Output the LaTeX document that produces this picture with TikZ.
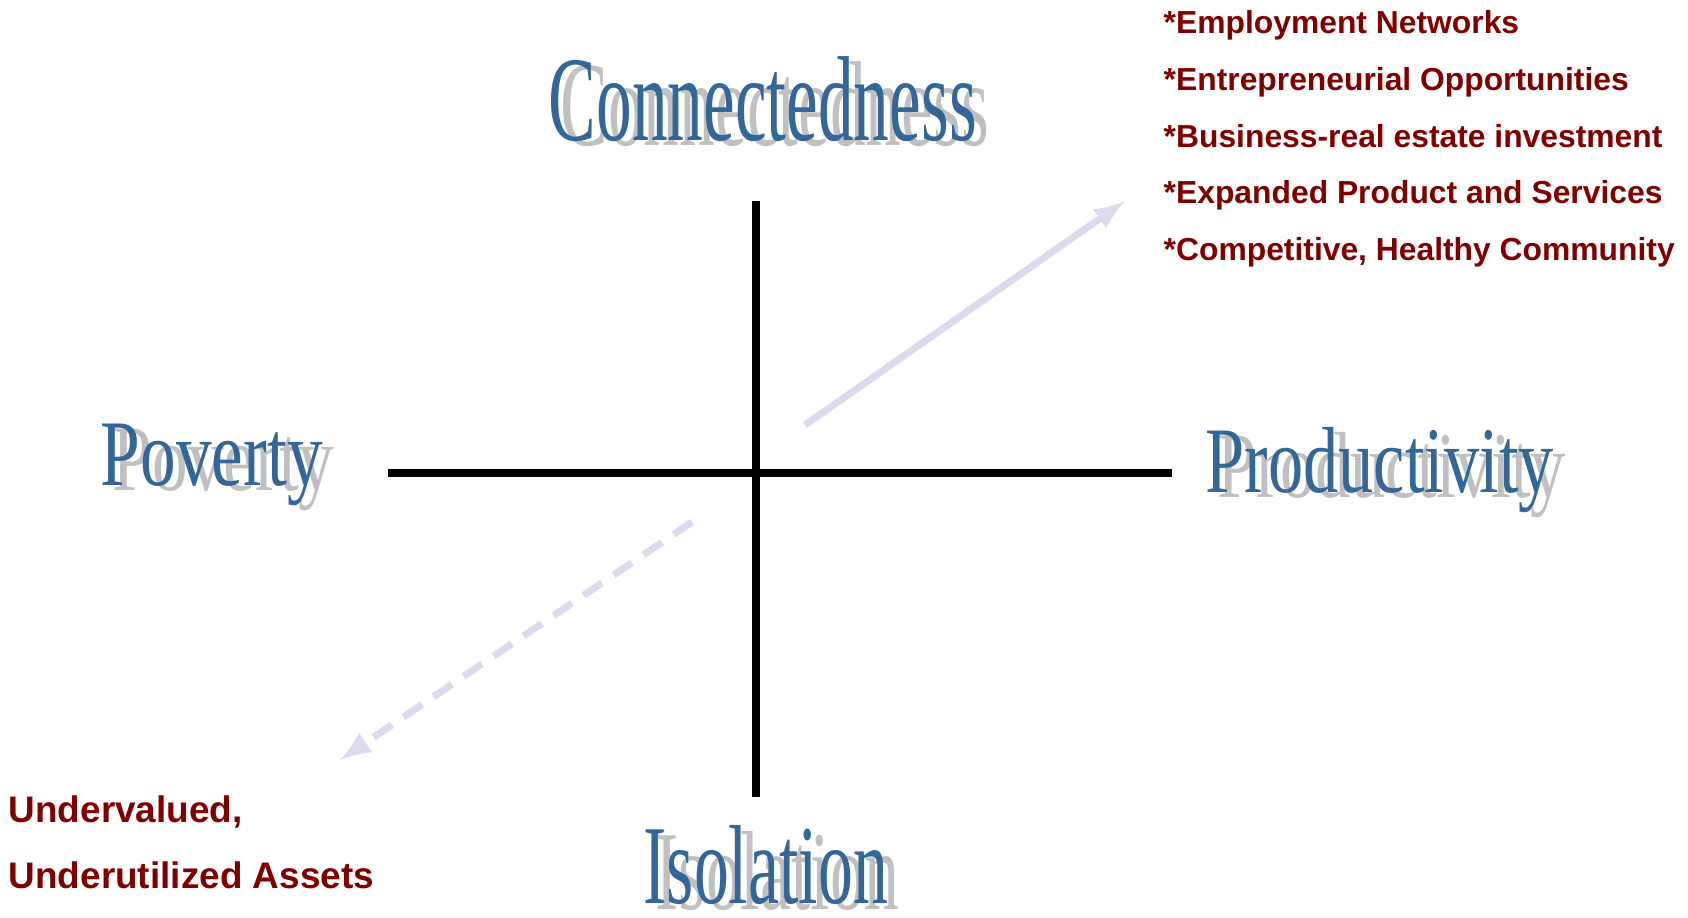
\documentclass[tikz,border=0pt]{standalone}
\usepackage{fontspec}
\setmainfont{Liberation Serif}
\setsansfont{Liberation Sans}
\usepackage{graphicx}
\usetikzlibrary{arrows,positioning}
\definecolor{titleblue}{RGB}{51,102,153}
\definecolor{shadowgrey}{RGB}{192,192,192}
\definecolor{listred}{RGB}{128,0,0}
\definecolor{arrowlav}{RGB}{220,218,238}

% name, position, font size, x-scale, text
\newcommand{\headline}[5]{%
	\node[headline, text=shadowgrey, xshift=3.4pt, yshift=-1.7pt] at (#2)
	{\fontsize{#3}{#3}\selectfont\scalebox{#4}[1]{#5}};
	\node[headline, text=titleblue] (#1) at (#2)
	{\fontsize{#3}{#3}\selectfont\scalebox{#4}[1]{#5}};
}

\begin{document}
\begin{tikzpicture}[
	x=0.01cm, y=-0.01cm,
	headline/.style={
		anchor=base west,
		inner sep=0pt
	},
	item/.style={
		anchor=base west,
		inner sep=0pt,
		text=listred,
		font=\sffamily\bfseries\fontsize{9.05}{9.05}\selectfont
	},
	asset/.style={
		item,
		font=\sffamily\bfseries\fontsize{10.5}{10.5}\selectfont
	},
	axis/.style={
		line width=2.3pt
	},
	lav/.style={
		draw=arrowlav,
		line width=2pt,
		-latex
	}
	]
	\useasboundingbox (0,0) rectangle (1688,917);
	
	% the cross
	\coordinate (top) at (756,201);
	\coordinate (bottom) at (756,797);
	\coordinate (left) at (388,473);
	\coordinate (right) at (1172,473);
	\draw[axis] (top) -- (bottom);
	\draw[axis] (left) -- (right);
	
	\headline{conn}{548,140}{34.4}{0.59}{Connectedness}
	\headline{pov}{100,485}{26.7}{0.76}{Poverty}
	\headline{prod}{1205,492}{26.7}{0.75}{Productivity}
	\headline{iso}{643,903}{32}{0.62}{Isolation}
	
	% arrows
	\coordinate (up1) at (805,425);
	\coordinate (up2) at (1125,201);
	\coordinate (down1) at (692,522);
	\coordinate (down2) at (340,760);
	\draw[lav] (up1) -- (up2);
	\draw[lav, dash pattern=on 6.3pt off 4pt] (down1) -- (down2);
	
	\node[item] (e1) at (1163,33) {*Employment Networks};
	\node[item] (e2) at (1163,90) {*Entrepreneurial Opportunities};
	\node[item] (e3) at (1163,147) {*Business-real estate investment};
	\node[item] (e4) at (1163,203) {*Expanded Product and Services};
	\node[item] (e5) at (1163,260) {*Competitive, Healthy Community};
	
	\node[asset] (u1) at (8,822) {Undervalued,};
	\node[asset] (u2) at (8,888) {Underutilized Assets};
	
\end{tikzpicture}
\end{document}
